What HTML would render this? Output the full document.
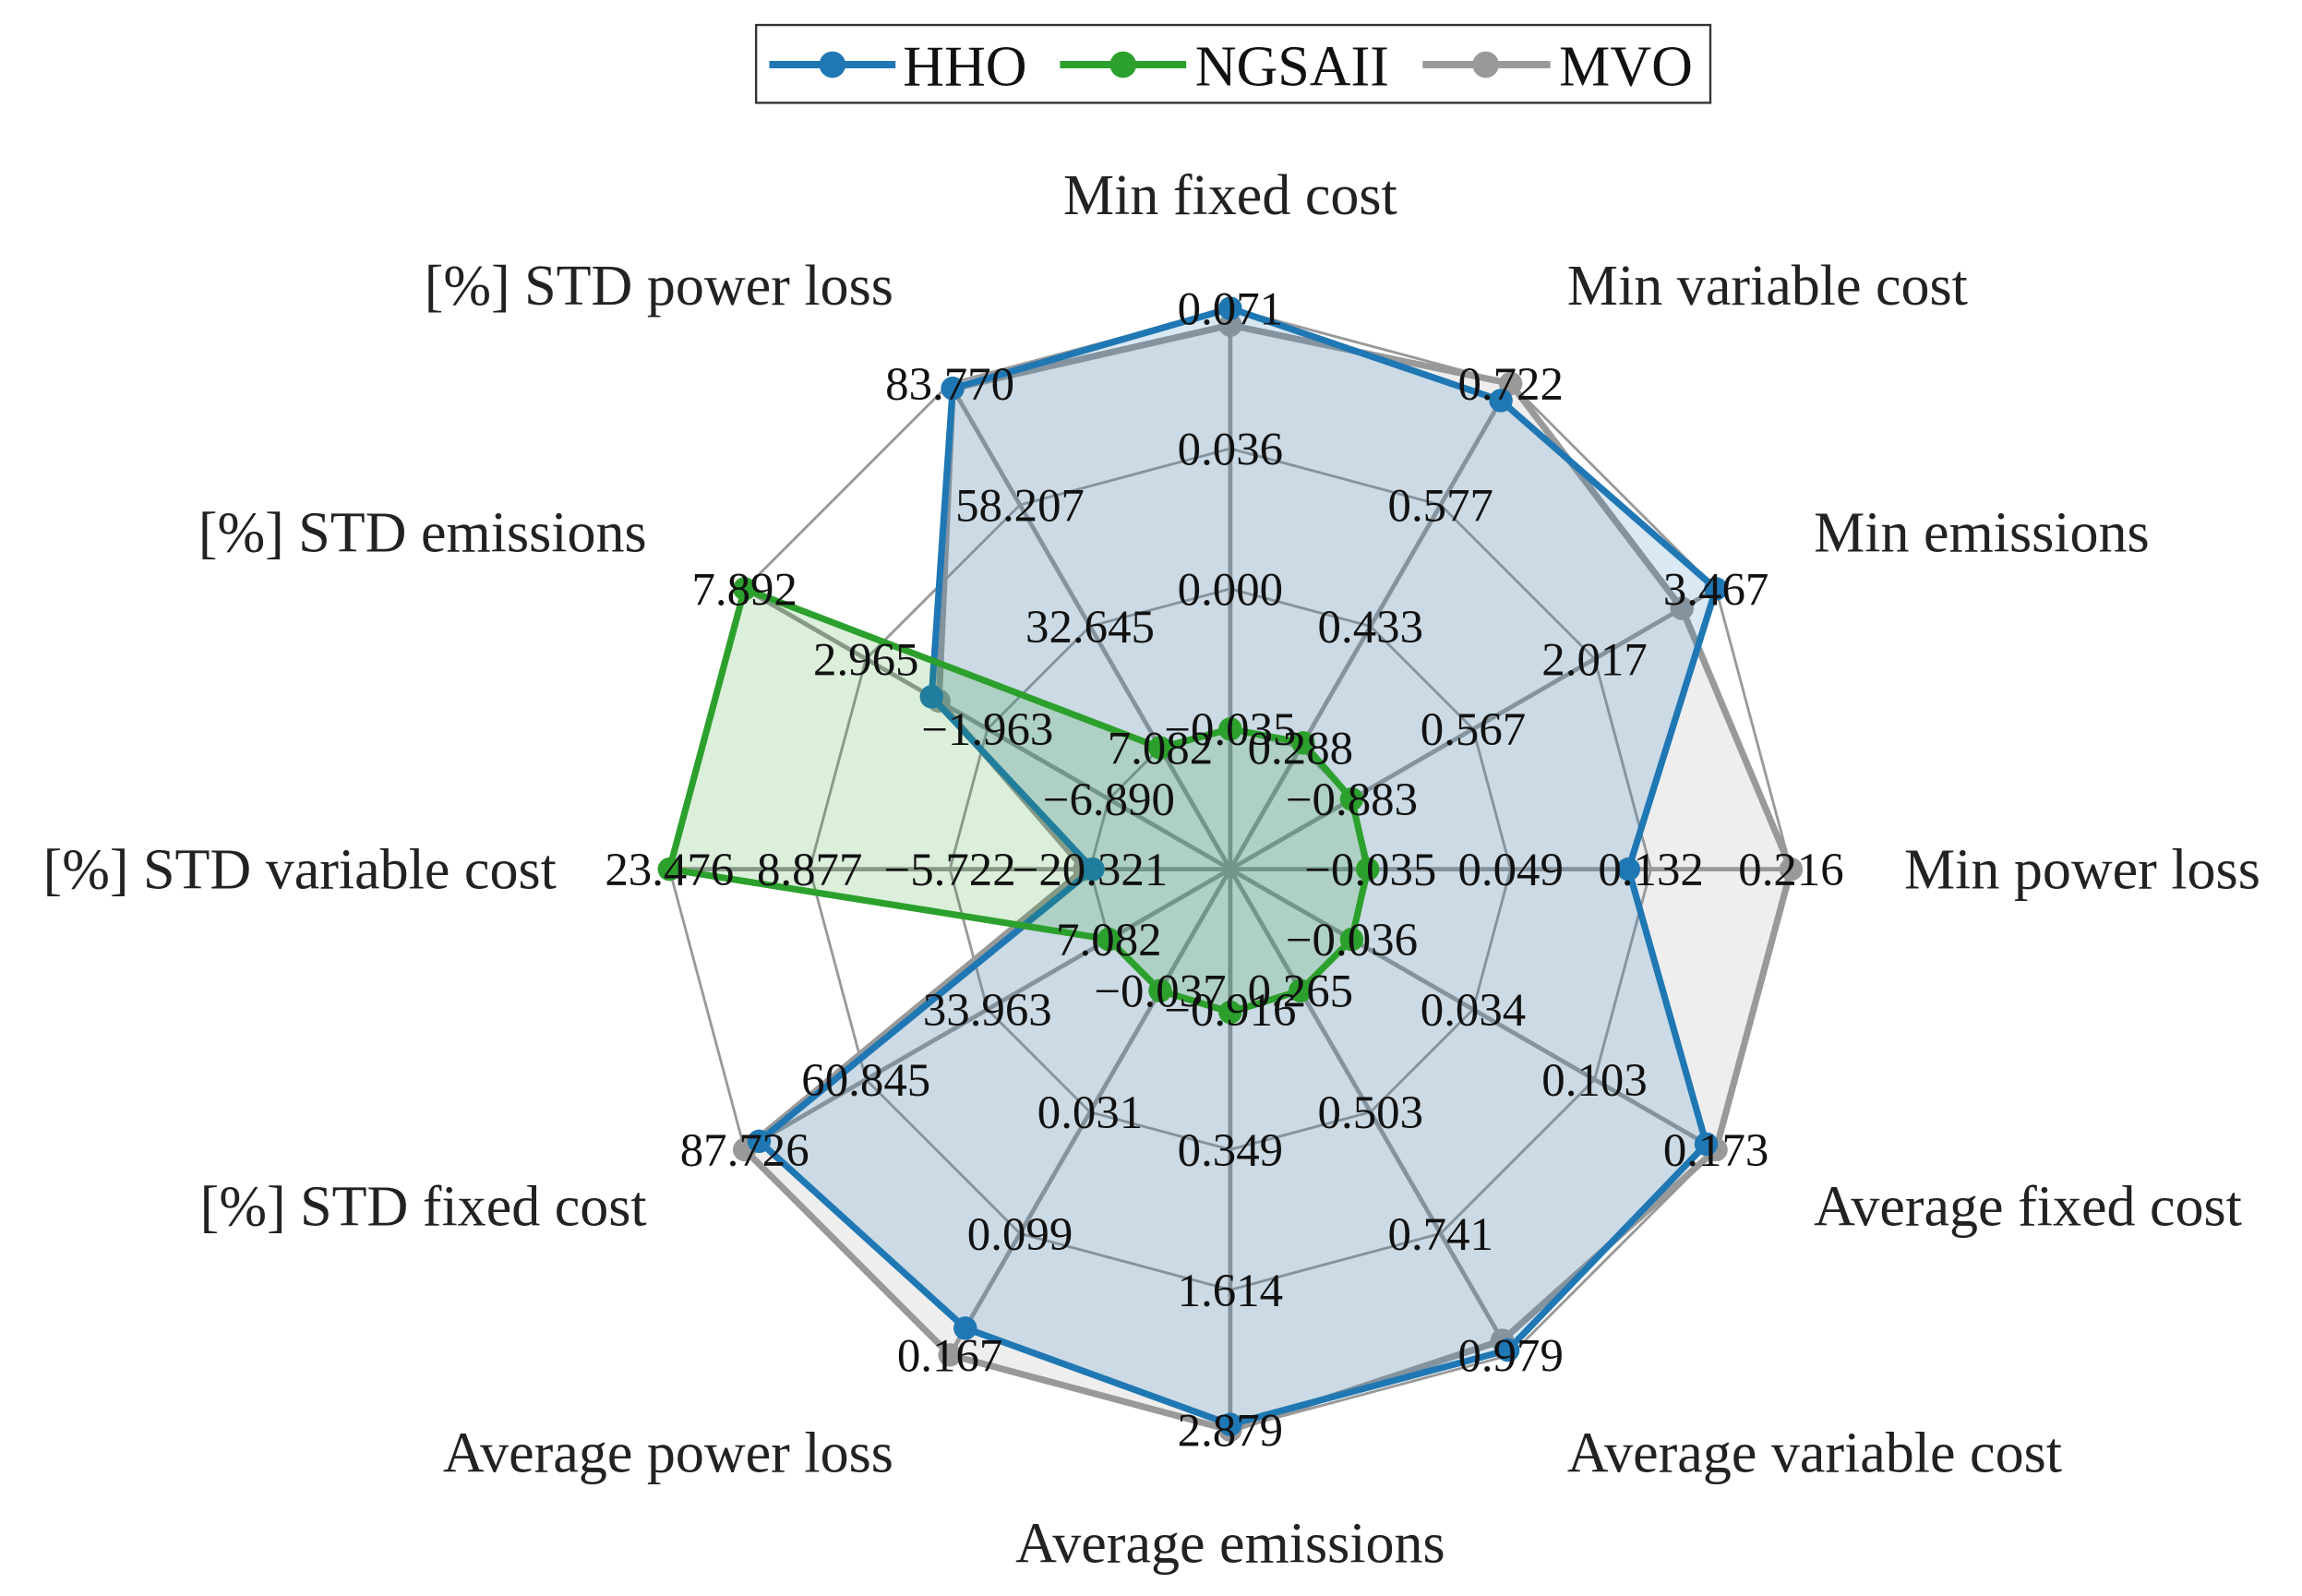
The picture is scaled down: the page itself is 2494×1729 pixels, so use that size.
<!DOCTYPE html>
<html><head><meta charset="utf-8"><style>
html,body{margin:0;padding:0;background:#fff;}
svg{display:block;font-family:"Liberation Serif","DejaVu Serif",serif;}
</style></head><body>
<svg id="chart" width="2494" height="1729" viewBox="0 0 1568 1087" xmlns="http://www.w3.org/2000/svg">
<g id="grid"></g>
<g id="series"></g>
<g id="ticks"></g>
<g id="cats"></g>
<g>
  <rect x="515" y="17" width="650" height="53" fill="#fff" stroke="#333" stroke-width="1.5"/>
  <g>
    <line x1="524" y1="44" x2="610" y2="44" stroke="#1f77b4" stroke-width="5"/>
    <circle cx="567" cy="44" r="9" fill="#1f77b4"/>
    <text x="615" y="58" font-size="39" fill="#111">HHO</text>
  </g>
  <g>
    <line x1="722" y1="44" x2="808" y2="44" stroke="#2ca02c" stroke-width="5"/>
    <circle cx="765" cy="44" r="9" fill="#2ca02c"/>
    <text x="814" y="58" font-size="39" fill="#111">NGSAII</text>
  </g>
  <g>
    <line x1="969" y1="44" x2="1056" y2="44" stroke="#999" stroke-width="5"/>
    <circle cx="1012" cy="44" r="9" fill="#999"/>
    <text x="1062" y="58" font-size="39" fill="#111">MVO</text>
  </g>
</g>
</svg>
<script>
const categories = ["Min fixed cost","Min variable cost","Min emissions","Min power loss","Average fixed cost","Average variable cost","Average emissions","Average power loss","[%] STD fixed cost","[%] STD variable cost","[%] STD emissions","[%] STD power loss"];
const tickLabels = [
 ["\u22120.035","0.000","0.036","0.071"],
 ["0.288","0.433","0.577","0.722"],
 ["\u22120.883","0.567","2.017","3.467"],
 ["\u22120.035","0.049","0.132","0.216"],
 ["\u22120.036","0.034","0.103","0.173"],
 ["0.265","0.503","0.741","0.979"],
 ["\u22120.916","0.349","1.614","2.879"],
 ["\u22120.037","0.031","0.099","0.167"],
 ["7.082","33.963","60.845","87.726"],
 ["\u221220.321","\u22125.722","8.877","23.476"],
 ["\u22126.890","\u22121.963","2.965","7.892"],
 ["7.082","32.645","58.207","83.770"]
];
const seriesNames = ["MVO","HHO","NGSAII"];
const mvoValues = [0.97,1.0,0.93,1.0,1.0,0.97,1.0,1.0,1.0,0.26,0.6,0.99];
const hhoValues = [1.0,0.965,1.0,0.71,0.98,0.99,0.99,0.945,0.97,0.245,0.615,0.99];
const ngsaiiValues = [0.25,0.26,0.25,0.245,0.25,0.25,0.255,0.25,0.25,1.0,1.0,0.25];

const NS="http://www.w3.org/2000/svg";
const cx=838, cy=592, R=382;
function ang(i){return i*2*Math.PI/categories.length;}
function pt(i,f){return [cx+R*f*Math.sin(ang(i)), cy-R*f*Math.cos(ang(i))];}
function mk(tag,attrs,parent){const e=document.createElementNS(NS,tag);for(const k in attrs)e.setAttribute(k,attrs[k]);parent.appendChild(e);return e;}
const grid=document.getElementById('grid');
for(let k=1;k<=4;k++){
  const pts=categories.map((c,i)=>pt(i,k/4).join(',')).join(' ');
  const ring=mk('polygon',{points:pts,fill:'none',stroke:'#999','stroke-width':1.8},grid);
  
  
}
categories.forEach((c,i)=>{
  const p=pt(i,1);
  const sp=mk('line',{x1:cx,y1:cy,x2:p[0],y2:p[1],stroke:'#999','stroke-width':3},grid);
  
  
});
const colors={MVO:'#999999',HHO:'#1f77b4',NGSAII:'#2ca02c'};
const vals={MVO:mvoValues,HHO:hhoValues,NGSAII:ngsaiiValues};
const sg=document.getElementById('series');
seriesNames.forEach(n=>{
  const pts=vals[n].map((v,i)=>pt(i,v).join(',')).join(' ');
  const poly=mk('polygon',{points:pts,fill:colors[n],'fill-opacity':0.17,stroke:colors[n],'stroke-width':4.5,'stroke-linejoin':'round'},sg);
  
  
  vals[n].forEach((v,i)=>{
    const p=pt(i,v);
    const d=mk('circle',{cx:p[0],cy:p[1],r:8,fill:colors[n]},sg);
    
    
  });
});
const tg=document.getElementById('ticks');
tickLabels.forEach((arr,i)=>{
  arr.forEach((t,k)=>{
    const p=pt(i,(k+1)/4);
    const e=mk('text',{x:p[0],y:p[1]+11,'font-size':32,'text-anchor':'middle',fill:'#111'},tg);
    e.textContent=t;
    
    
  });
});
const cg=document.getElementById('cats');
categories.forEach((c,i)=>{
  const a=ang(i), r=459;
  const x=cx+r*Math.sin(a), y=cy-r*Math.cos(a);
  const s=Math.sin(a);
  const anchor=Math.abs(s)<0.01?'middle':(s>0?'start':'end');
  const e=mk('text',{x:x,y:y+13,'font-size':39,'text-anchor':anchor,fill:'#222'},cg);
  e.textContent=c;
  
  
});
</script>
</body></html>
